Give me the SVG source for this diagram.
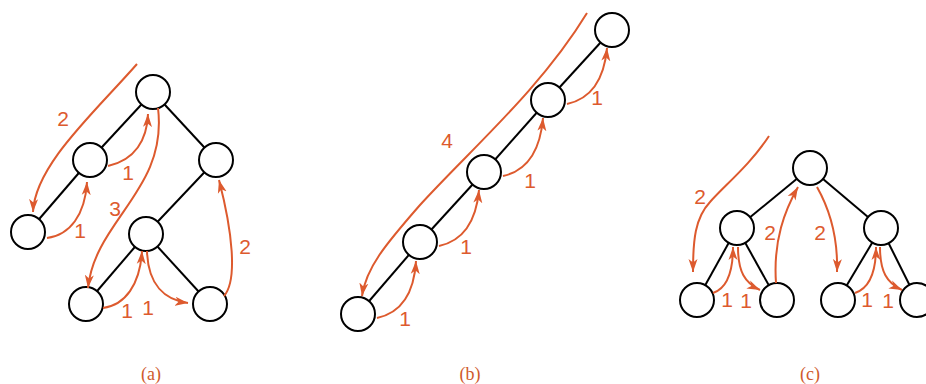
<svg xmlns="http://www.w3.org/2000/svg" width="926" height="384" viewBox="0 0 926 384">
<style>
.e{stroke:#000;stroke-width:2;fill:none}
.n circle{fill:#fff;stroke:#000;stroke-width:2}
.a{stroke:#DD5A2E;stroke-width:2;fill:none;marker-end:url(#ah)}
.l{font-family:"Liberation Sans",Arial,sans-serif;font-size:21px;fill:#DD5A2E;text-anchor:middle}
.c{font-family:"Liberation Serif","Times New Roman",serif;font-size:18px;fill:#CF5A2C;text-anchor:middle}
</style>
<defs>
<marker id="ah" markerWidth="14" markerHeight="10" refX="13" refY="5" orient="auto" markerUnits="userSpaceOnUse">
<path d="M0,0.5 L13,5 L0,9.5 L3.5,5 Z" fill="#DD5A2E"/>
</marker>
</defs>
<g id="edges">
<line class="e" x1="153" y1="92" x2="90" y2="160"/>
<line class="e" x1="90" y1="160" x2="28" y2="232"/>
<line class="e" x1="153" y1="92" x2="216" y2="160"/>
<line class="e" x1="216" y1="160" x2="146" y2="234"/>
<line class="e" x1="146" y1="234" x2="86" y2="304"/>
<line class="e" x1="146" y1="234" x2="210" y2="304"/>
<line class="e" x1="612" y1="30" x2="548" y2="100"/>
<line class="e" x1="548" y1="100" x2="484" y2="172"/>
<line class="e" x1="484" y1="172" x2="420" y2="242"/>
<line class="e" x1="420" y1="242" x2="358" y2="314"/>
<line class="e" x1="810" y1="168" x2="737" y2="228"/>
<line class="e" x1="810" y1="168" x2="881" y2="228"/>
<line class="e" x1="737" y1="228" x2="697" y2="300"/>
<line class="e" x1="737" y1="228" x2="777" y2="300"/>
<line class="e" x1="881" y1="228" x2="838" y2="300"/>
<line class="e" x1="881" y1="228" x2="917" y2="300"/>
</g>
<g id="a-nodes" class="n">
<g id="a1"><circle cx="153" cy="92" r="17"/></g>
<g id="a2"><circle cx="90" cy="160" r="17"/></g>
<g id="a3"><circle cx="28" cy="232" r="17"/></g>
<g id="a4"><circle cx="216" cy="160" r="17"/></g>
<g id="a5"><circle cx="146" cy="234" r="17"/></g>
<g id="a6"><circle cx="86" cy="304" r="17"/></g>
<g id="a7"><circle cx="210" cy="304" r="17"/></g>
</g>
<g id="b-nodes" class="n">
<g id="b1"><circle cx="612" cy="30" r="17"/></g>
<g id="b2"><circle cx="548" cy="100" r="17"/></g>
<g id="b3"><circle cx="484" cy="172" r="17"/></g>
<g id="b4"><circle cx="420" cy="242" r="17"/></g>
<g id="b5"><circle cx="358" cy="314" r="17"/></g>
</g>
<g id="c-nodes" class="n">
<g id="c1"><circle cx="810" cy="168" r="17"/></g>
<g id="c2"><circle cx="737" cy="228" r="17"/></g>
<g id="c3"><circle cx="881" cy="228" r="17"/></g>
<g id="c4"><circle cx="697" cy="300" r="17"/></g>
<g id="c5"><circle cx="777" cy="300" r="17"/></g>
<g id="c6"><circle cx="838" cy="300" r="17"/></g>
<g id="c7"><circle cx="917" cy="300" r="17"/></g>
</g>
<g id="connectors">
<path class="a" d="M137,64 C95,112 35,165 33,212"/>
<path class="a" d="M47,238 C70,235 85,215 87,182"/>
<path class="a" d="M108,166 C135,160 147,140 148,114"/>
<path class="a" d="M158,108 C168,190 95,220 88,288"/>
<path class="a" d="M103,308 C125,305 140,285 142,251"/>
<path class="a" d="M147,251 C148,285 165,300 188,303"/>
<path class="a" d="M224,296 C238,280 232,230 219,180"/>
<path class="a" d="M587,13 C540,90 470,150 420,205 C385,245 366,268 362,296"/>
<path class="a" d="M377,318 C400,313 414,295 416,261"/>
<path class="a" d="M439,246 C462,241 476,223 479,190"/>
<path class="a" d="M503,176 C526,171 540,153 543,118"/>
<path class="a" d="M567,104 C590,99 604,81 607,48"/>
<path class="a" d="M769,136 C750,165 725,185 710,202 C695,218 693,240 693,272"/>
<path class="a" d="M713,293 C728,288 733,270 733,247"/>
<path class="a" d="M738,247 C738,272 745,283 760,290"/>
<path class="a" d="M776,283 C773,240 785,210 798,187"/>
<path class="a" d="M817,187 C830,210 838,240 837,272"/>
<path class="a" d="M855,293 C870,288 876,270 876,247"/>
<path class="a" d="M880,247 C880,272 887,283 902,290"/>
</g>
<g id="labels">
<text class="l" x="63" y="126">2</text>
<text class="l" x="80" y="238">1</text>
<text class="l" x="128" y="180">1</text>
<text class="l" x="115" y="216">3</text>
<text class="l" x="127" y="318">1</text>
<text class="l" x="148" y="315">1</text>
<text class="l" x="245" y="254">2</text>
<text class="l" x="447" y="148">4</text>
<text class="l" x="405" y="326">1</text>
<text class="l" x="466" y="254">1</text>
<text class="l" x="530" y="188">1</text>
<text class="l" x="597" y="105">1</text>
<text class="l" x="700" y="204">2</text>
<text class="l" x="727" y="307">1</text>
<text class="l" x="746" y="308">1</text>
<text class="l" x="770" y="240">2</text>
<text class="l" x="820" y="240">2</text>
<text class="l" x="867" y="307">1</text>
<text class="l" x="888" y="308">1</text>
</g>
<g id="captions">
<text class="c" x="151" y="380">(a)</text>
<text class="c" x="470" y="380">(b)</text>
<text class="c" x="810" y="380">(c)</text>
</g>
</svg>
